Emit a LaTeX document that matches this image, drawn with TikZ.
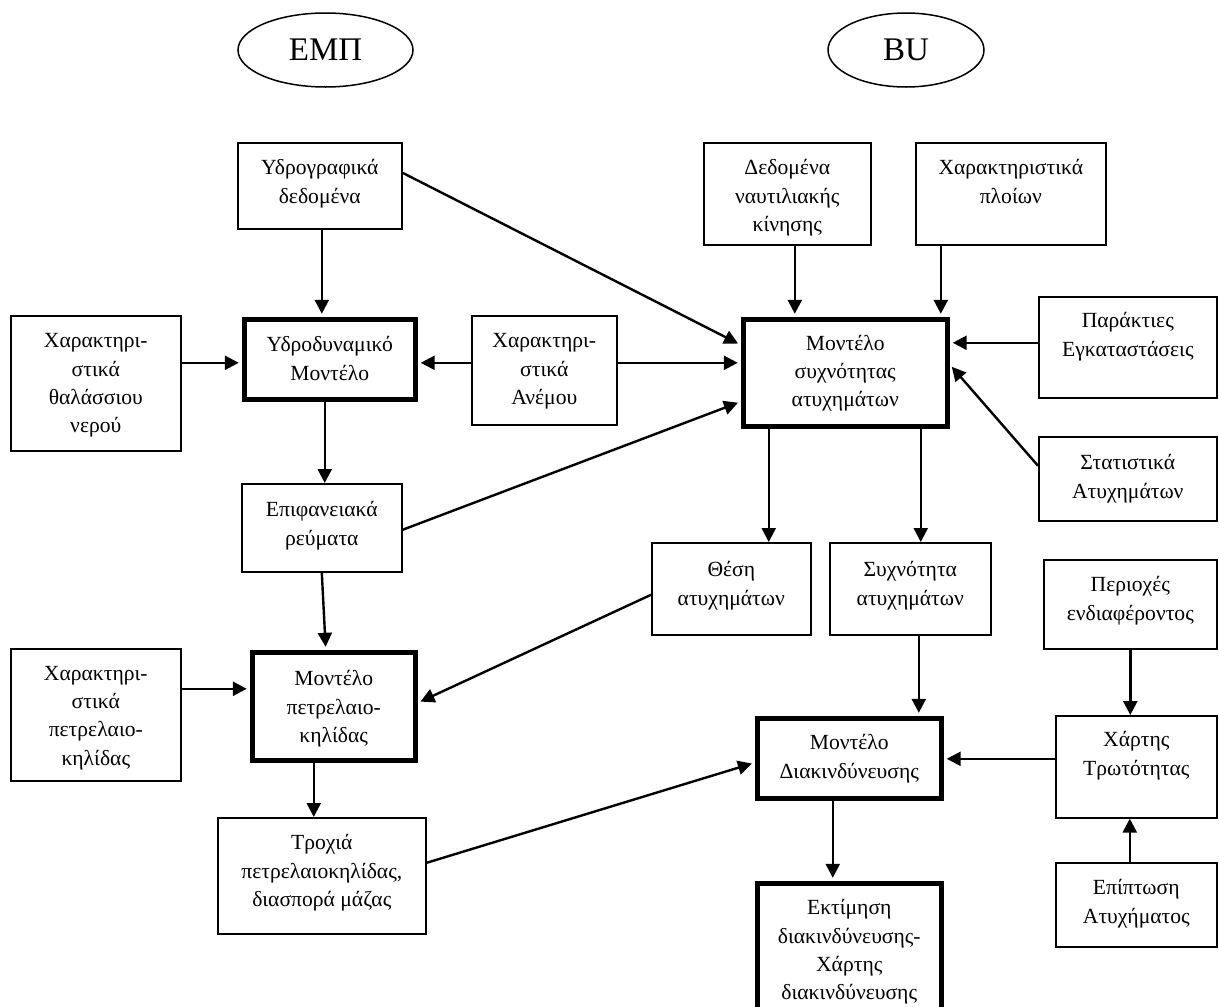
\documentclass[tikz,border=0pt]{standalone}
\usepackage{fontspec}
\setmainfont{Liberation Serif}
\usetikzlibrary{arrows.meta,shapes.geometric}
\newcommand{\bx}[4]{\parbox[c][#2pt][t]{#1pt}{\centering\rule{0pt}{#3pt}#4}}
\tikzset{
  tbox/.style={draw, line width=1.6pt, inner sep=0pt, anchor=north west,
    font=\fontsize{21.6}{28.3}\selectfont},
  kbox/.style={tbox, line width=5.5pt},
  oval/.style={draw, ellipse, line width=1.5pt, inner sep=0pt,
    font=\fontsize{33}{36}\selectfont},
  arr/.style={line width=2.4pt, -{Triangle[length=14pt,width=14pt]}},
  arrk/.style={arr, shorten >=2.7pt}
}
\begin{document}
\begin{tikzpicture}[x=1pt,y=-1pt]
\useasboundingbox (0,0) rectangle (1219,1007);
% ellipses
\node[oval, minimum width=175pt, minimum height=74pt] (emp) at (325.5,50) {ΕΜΠ};
\node[oval, minimum width=156pt, minimum height=74pt] (bu) at (906,50) {BU};
% boxes
\node[tbox] (A) at (237,142) {\bx{164}{86}{32}{Υδρογραφικά\\δεδομένα}};
\node[kbox] (B) at (241.5,316.5) {\bx{171}{80}{32.5}{Υδροδυναμικό\\Μοντέλο}};
\node[tbox] (C) at (10,315) {\bx{170}{135}{32}{Χαρακτηρι-\\στικά\\θαλάσσιου\\νερού}};
\node[tbox] (D) at (471,315) {\bx{145}{109}{32}{Χαρακτηρι-\\στικά\\Ανέμου}};
\node[tbox] (E) at (241,483) {\bx{160}{88}{33}{Επιφανειακά\\ρεύματα}};
\node[kbox] (F) at (249.5,649.5) {\bx{163}{108}{33.5}{Μοντέλο\\πετρελαιο-\\κηλίδας}};
\node[tbox] (G) at (10,648) {\bx{170}{132}{31.5}{Χαρακτηρι-\\στικά\\πετρελαιο-\\κηλίδας}};
\node[tbox] (H) at (217,817) {\bx{208}{116}{32}{Τροχιά\\πετρελαιοκηλίδας,\\διασπορά μάζας}};
\node[tbox] (I) at (703,142) {\bx{167}{102}{32}{Δεδομένα\\ναυτιλιακής\\κίνησης}};
\node[tbox] (J) at (915,142) {\bx{190}{102}{32}{Χαρακτηριστικά\\πλοίων}};
\node[kbox] (K) at (740.5,316.5) {\bx{204}{107}{31}{Μοντέλο\\συχνότητας\\ατυχημάτων}};
\node[tbox] (L) at (1038,296) {\bx{178}{101}{31}{Παράκτιες\\Εγκαταστάσεις}};
\node[tbox] (M) at (1038,436) {\bx{178}{84}{33}{Στατιστικά\\Ατυχημάτων}};
\node[tbox] (N) at (651,542) {\bx{159}{92}{34}{Θέση\\ατυχημάτων}};
\node[tbox] (O) at (829,542) {\bx{161}{92}{34}{Συχνότητα\\ατυχημάτων}};
\node[tbox] (P) at (1043,559) {\bx{173}{89}{32}{Περιοχές\\ενδιαφέροντος}};
\node[tbox] (Q) at (1055,715) {\bx{161}{102}{31}{Χάρτης\\Τρωτότητας}};
\node[tbox] (R) at (1055,862) {\bx{161}{84}{32}{Επίπτωση\\Ατυχήματος}};
\node[kbox] (S) at (754.5,715.5) {\bx{184}{80}{31.5}{Μοντέλο\\Διακινδύνευσης}};
\node[kbox] (T) at (754.5,880.5) {\bx{184}{140}{31.5}{Εκτίμηση\\διακινδύνευσης-\\Χάρτης\\διακινδύνευσης}};
% connectors
\draw[arrk] ([xshift=2pt]A.south) -- ([xshift=2pt]A.south |- B.north);
\draw[arrk] ([yshift=20.5pt]C.east) -- ([yshift=20.5pt]C.east -| B.west);
\draw[arrk] ([yshift=7.5pt]D.west) -- ([yshift=7.5pt]D.west -| B.east);
\draw[arrk] ([yshift=7.5pt]D.east) -- ([yshift=7.5pt]D.east -| K.west);
\draw[arrk] ([yshift=13pt]A.east) -- ([yshift=28pt]K.west);
\draw[arrk] ([yshift=-2pt]E.east) -- ([yshift=-29pt]K.west);
\draw[arr] ([xshift=-5pt]B.south) -- ([xshift=-5pt]B.south |- E.north);
\draw[arrk] (E.south) -- ([xshift=-8pt]F.north);
\draw[arrk] ([yshift=26pt]G.east) -- ([yshift=26pt]G.east -| F.west);
\draw[arrk] ([yshift=-6pt]N.west) -- ([yshift=3.5pt]F.east);
\draw[arr] ([xshift=-20pt]F.south) -- ([xshift=-20pt]F.south |- H.north);
\draw[arrk] ([yshift=13pt]H.east) -- ([yshift=-4.5pt]S.west);
\draw[arr] ([xshift=-76.5pt]K.south) -- ([xshift=-76.5pt]K.south |- N.north);
\draw[arr] ([xshift=75.5pt]K.south) -- ([xshift=75.5pt]K.south |- O.north);
\draw[arrk] ([xshift=7.5pt]I.south) -- ([xshift=7.5pt]I.south |- K.north);
\draw[arrk] ([xshift=-70pt]J.south) -- ([xshift=-70pt]J.south |- K.north);
\draw[arrk] ([yshift=4.5pt]L.west) -- ([yshift=4.5pt]L.west -| K.east);
\draw[arrk] ([yshift=13pt]M.west) -- ([yshift=8pt]K.east);
\draw[arrk] ([xshift=8.5pt]O.south) -- ([xshift=8.5pt]O.south |- S.north);
\draw[arr] (P.south) -- (P.south |- Q.north);
\draw[arrk] ([yshift=8pt]Q.west) -- ([yshift=8pt]Q.west -| S.east);
\draw[arr] ([xshift=-6.5pt]R.north) -- ([xshift=-6.5pt]R.north |- Q.south);
\draw[arrk] ([xshift=-16.5pt]S.south) -- ([xshift=-16.5pt]S.south |- T.north);
\end{tikzpicture}
\end{document}
